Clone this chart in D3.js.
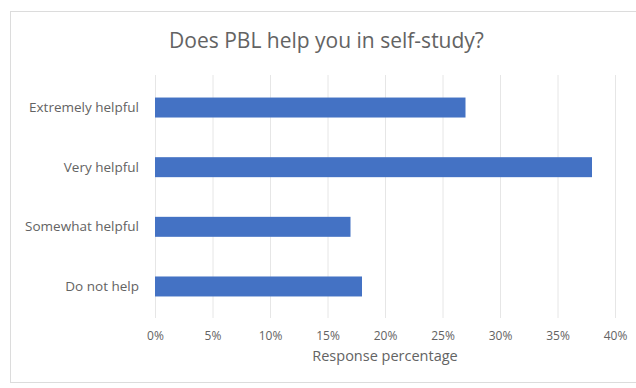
<!DOCTYPE html>
<html><head><meta charset="utf-8">
<script src="https://cdn.jsdelivr.net/npm/d3@7"></script>
<style>html,body{margin:0;padding:0;background:#fff;}svg{display:block;}</style>
</head><body>
<svg id="chart" width="636" height="388"></svg>
<script>
const categories = ["Extremely helpful", "Very helpful", "Somewhat helpful", "Do not help"];
const values = [27, 38, 17, 18];
const tickValues = [0, 5, 10, 15, 20, 25, 30, 35, 40];
const title = "Does PBL help you in self-study?";
const xTitle = "Response percentage";

const svg = d3.select("#chart");
const font = "'Open Sans', sans-serif";
const textColor = "#636363";

svg.append("rect").attr("x", 10.5).attr("y", 11.5).attr("width", 640).attr("height", 371)
  .attr("fill", "#fff").attr("stroke", "#dcdcdc").attr("stroke-width", 1);

const x = d3.scaleLinear().domain([0, 40]).range([155, 615]);
const y = d3.scaleBand().domain(categories).range([77.7, 316.3]).paddingInner(0.665).paddingOuter(0.3325);

svg.append("g").selectAll("line").data(tickValues).join("line")
  .attr("x1", d => x(d) + 0.5).attr("x2", d => x(d) + 0.5)
  .attr("y1", 75).attr("y2", 318)
  .attr("stroke", "#e6e6e6").attr("stroke-width", 1);

svg.append("g").selectAll("rect").data(values).join("rect")
  .attr("x", x(0))
  .attr("y", (d, i) => y(categories[i]))
  .attr("width", d => x(d) - x(0))
  .attr("height", y.bandwidth())
  .attr("fill", "#4472C4");

const yAxis = d3.axisLeft(y).tickSize(0).tickPadding(0);
const gy = svg.append("g").attr("transform", "translate(139,0)").call(yAxis);
gy.select(".domain").remove();
gy.selectAll("text").attr("font-family", font).attr("font-size", 13.5).attr("fill", textColor);

const xAxis = d3.axisBottom(x).tickValues(tickValues).tickSize(0).tickPadding(0).tickFormat(d => d + "%");
const gx = svg.append("g").attr("transform", "translate(0,0)").call(xAxis);
gx.select(".domain").remove();
gx.selectAll("text").attr("font-family", font).attr("font-size", 12).attr("fill", textColor)
  .attr("dy", null).attr("y", 340);

svg.append("text").attr("x", 385).attr("y", 361).attr("text-anchor", "middle")
  .attr("font-family", font).attr("font-size", 14.5).attr("fill", textColor).text(xTitle);

svg.append("text").attr("x", 326.5).attr("y", 47.5).attr("text-anchor", "middle")
  .attr("font-family", font).attr("font-size", 21).attr("fill", textColor).text(title);
</script>
</body></html>
